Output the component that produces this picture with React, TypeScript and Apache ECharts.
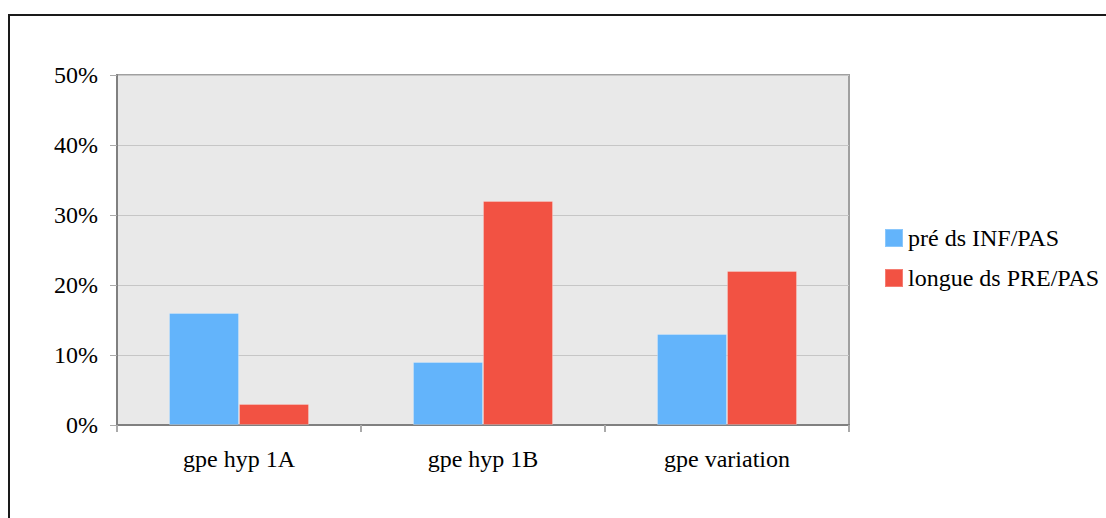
import React, { useEffect, useRef } from "react";
import * as echarts from "echarts";

const categories = ["gpe hyp 1A", "gpe hyp 1B", "gpe variation"];
const seriesNames = ["pré ds INF/PAS", "longue ds PRE/PAS"];
const preValues = [16, 9, 13];
const longueValues = [3, 32, 22];
const colors = ["#63b4fb", "#f25243"];

const FONT = "Liberation Serif";

export default function App() {
  const ref = useRef<HTMLDivElement>(null);
  useEffect(() => {
    if (!ref.current) return;
    const chart = echarts.init(ref.current, null, { renderer: "svg" });
    chart.setOption({
      animation: false,
      backgroundColor: "#ffffff",
      textStyle: { fontFamily: FONT },
      graphic: [
        {
          type: "rect",
          shape: { x: 9, y: 15, width: 1200, height: 600 },
          style: { fill: "none", stroke: "#1a1a1a", lineWidth: 2 },
          silent: true,
        },
      ],
      grid: {
        left: 117,
        top: 75,
        right: 257,
        bottom: 93,
        show: true,
        backgroundColor: "#e9e9e9",
        borderColor: "#a0a0a0",
        borderWidth: 2,
      },
      legend: {
        orient: "vertical",
        left: 884,
        top: 226,
        padding: 0,
        itemWidth: 18,
        itemHeight: 18,
        itemGap: 16,
        icon: "rect",
        textStyle: { fontFamily: FONT, fontSize: 24, color: "#000" },
        data: seriesNames,
      },
      xAxis: {
        type: "category",
        data: categories,
        axisLine: { show: true, lineStyle: { color: "#808080", width: 2 } },
        axisTick: { show: true, length: 7, alignWithLabel: false, lineStyle: { color: "#aaaaaa", width: 2 } },
        axisLabel: { fontFamily: FONT, fontSize: 24, color: "#000", margin: 22 },
      },
      yAxis: {
        type: "value",
        min: 0,
        max: 50,
        interval: 10,
        axisLine: { show: true, lineStyle: { color: "#808080", width: 2 } },
        axisTick: { show: true, length: 7, lineStyle: { color: "#aaaaaa", width: 1 } },
        splitLine: { show: true, lineStyle: { color: "#c6c6c6", width: 1 } },
        axisLabel: { fontFamily: FONT, fontSize: 24, color: "#000", margin: 19, formatter: "{value}%" },
      },
      series: [
        {
          name: seriesNames[0],
          type: "bar",
          data: preValues,
          barWidth: 70,
          barGap: "0%",
          itemStyle: { color: colors[0], borderColor: "rgba(255,255,255,0.25)", borderWidth: 1 },
        },
        {
          name: seriesNames[1],
          type: "bar",
          data: longueValues,
          barWidth: 70,
          barGap: "0%",
          itemStyle: { color: colors[1], borderColor: "rgba(255,255,255,0.25)", borderWidth: 1 },
        },
      ],
    });
    return () => chart.dispose();
  }, []);
  return (
    <div
      ref={ref}
      style={{ position: "fixed", left: 0, top: 0, width: 1106, height: 518 }}
    />
  );
}
